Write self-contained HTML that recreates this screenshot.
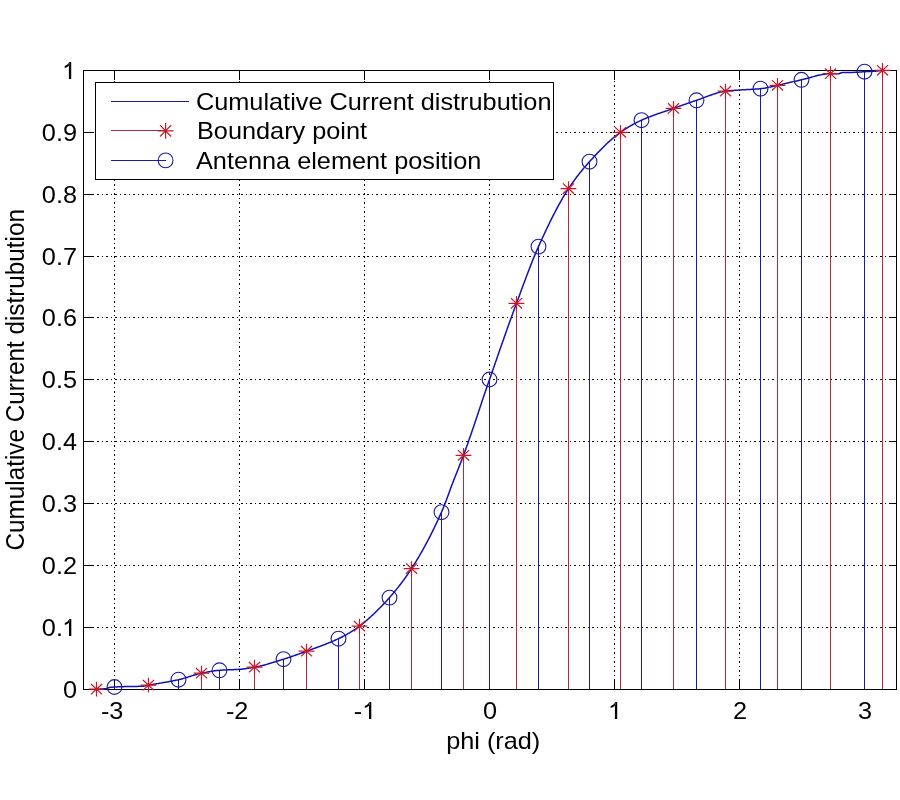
<!DOCTYPE html>
<html><head><meta charset="utf-8"><title>Cumulative Current distrubution</title>
<style>html,body{margin:0;padding:0;background:#fff;}body{width:900px;height:800px;position:relative;overflow:hidden;font-family:"Liberation Sans",sans-serif;}</style></head>
<body>
<svg width="900" height="800" viewBox="0 0 900 800" style="position:absolute;left:0;top:0;will-change:transform">
<rect x="0" y="0" width="900" height="800" fill="#fff"/>
<g stroke="#000" stroke-width="1" stroke-dasharray="1.5 3" fill="none" shape-rendering="crispEdges">
<line x1="114.5" y1="70.5" x2="114.5" y2="689.5" stroke-dashoffset="3.5"/>
<line x1="239.5" y1="70.5" x2="239.5" y2="689.5" stroke-dashoffset="3.5"/>
<line x1="364.5" y1="70.5" x2="364.5" y2="689.5" stroke-dashoffset="3.5"/>
<line x1="489.5" y1="70.5" x2="489.5" y2="689.5" stroke-dashoffset="3.5"/>
<line x1="614.5" y1="70.5" x2="614.5" y2="689.5" stroke-dashoffset="3.5"/>
<line x1="739.5" y1="70.5" x2="739.5" y2="689.5" stroke-dashoffset="3.5"/>
<line x1="864.5" y1="70.5" x2="864.5" y2="689.5" stroke-dashoffset="3.5"/>
<line x1="83.5" y1="627.5" x2="896.5" y2="627.5"/>
<line x1="83.5" y1="565.5" x2="896.5" y2="565.5"/>
<line x1="83.5" y1="503.5" x2="896.5" y2="503.5"/>
<line x1="83.5" y1="441.5" x2="896.5" y2="441.5"/>
<line x1="83.5" y1="379.5" x2="896.5" y2="379.5"/>
<line x1="83.5" y1="317.5" x2="896.5" y2="317.5"/>
<line x1="83.5" y1="256.5" x2="896.5" y2="256.5"/>
<line x1="83.5" y1="194.5" x2="896.5" y2="194.5"/>
<line x1="83.5" y1="132.5" x2="896.5" y2="132.5"/>
</g>
<g stroke="#000" stroke-width="1" fill="none" shape-rendering="crispEdges">
<rect x="83.5" y="70.5" width="813.0" height="619.0"/>
<line x1="114.5" y1="689.5" x2="114.5" y2="680.0"/>
<line x1="114.5" y1="70.5" x2="114.5" y2="80.0"/>
<line x1="239.5" y1="689.5" x2="239.5" y2="680.0"/>
<line x1="239.5" y1="70.5" x2="239.5" y2="80.0"/>
<line x1="364.5" y1="689.5" x2="364.5" y2="680.0"/>
<line x1="364.5" y1="70.5" x2="364.5" y2="80.0"/>
<line x1="489.5" y1="689.5" x2="489.5" y2="680.0"/>
<line x1="489.5" y1="70.5" x2="489.5" y2="80.0"/>
<line x1="614.5" y1="689.5" x2="614.5" y2="680.0"/>
<line x1="614.5" y1="70.5" x2="614.5" y2="80.0"/>
<line x1="739.5" y1="689.5" x2="739.5" y2="680.0"/>
<line x1="739.5" y1="70.5" x2="739.5" y2="80.0"/>
<line x1="864.5" y1="689.5" x2="864.5" y2="680.0"/>
<line x1="864.5" y1="70.5" x2="864.5" y2="80.0"/>
<line x1="83.5" y1="689.5" x2="93.0" y2="689.5"/>
<line x1="896.5" y1="689.5" x2="888.5" y2="689.5"/>
<line x1="83.5" y1="627.5" x2="93.0" y2="627.5"/>
<line x1="896.5" y1="627.5" x2="888.5" y2="627.5"/>
<line x1="83.5" y1="565.5" x2="93.0" y2="565.5"/>
<line x1="896.5" y1="565.5" x2="888.5" y2="565.5"/>
<line x1="83.5" y1="503.5" x2="93.0" y2="503.5"/>
<line x1="896.5" y1="503.5" x2="888.5" y2="503.5"/>
<line x1="83.5" y1="441.5" x2="93.0" y2="441.5"/>
<line x1="896.5" y1="441.5" x2="888.5" y2="441.5"/>
<line x1="83.5" y1="379.5" x2="93.0" y2="379.5"/>
<line x1="896.5" y1="379.5" x2="888.5" y2="379.5"/>
<line x1="83.5" y1="317.5" x2="93.0" y2="317.5"/>
<line x1="896.5" y1="317.5" x2="888.5" y2="317.5"/>
<line x1="83.5" y1="256.5" x2="93.0" y2="256.5"/>
<line x1="896.5" y1="256.5" x2="888.5" y2="256.5"/>
<line x1="83.5" y1="194.5" x2="93.0" y2="194.5"/>
<line x1="896.5" y1="194.5" x2="888.5" y2="194.5"/>
<line x1="83.5" y1="132.5" x2="93.0" y2="132.5"/>
<line x1="896.5" y1="132.5" x2="888.5" y2="132.5"/>
<line x1="83.5" y1="70.5" x2="93.0" y2="70.5"/>
<line x1="896.5" y1="70.5" x2="888.5" y2="70.5"/>
</g>
<g stroke="#b02a38" stroke-width="1" shape-rendering="crispEdges">
<line x1="96.5" y1="689.2" x2="96.5" y2="689.0"/>
<line x1="148.5" y1="685.2" x2="148.5" y2="689.0"/>
<line x1="201.5" y1="673.2" x2="201.5" y2="689.0"/>
<line x1="254.5" y1="667.2" x2="254.5" y2="689.0"/>
<line x1="306.5" y1="651.2" x2="306.5" y2="689.0"/>
<line x1="359.5" y1="626.2" x2="359.5" y2="689.0"/>
<line x1="411.5" y1="568.6" x2="411.5" y2="689.0"/>
<line x1="463.5" y1="455.3" x2="463.5" y2="689.0"/>
<line x1="516.5" y1="303.3" x2="516.5" y2="689.0"/>
<line x1="568.5" y1="188.6" x2="568.5" y2="689.0"/>
<line x1="620.5" y1="132.3" x2="620.5" y2="689.0"/>
<line x1="673.5" y1="108.4" x2="673.5" y2="689.0"/>
<line x1="725.5" y1="91.2" x2="725.5" y2="689.0"/>
<line x1="777.5" y1="85.3" x2="777.5" y2="689.0"/>
<line x1="830.5" y1="73.7" x2="830.5" y2="689.0"/>
<line x1="882.5" y1="70.3" x2="882.5" y2="689.0"/>
</g>
<g stroke="#1a1aa8" stroke-width="1" shape-rendering="crispEdges">
<line x1="114.5" y1="687.0" x2="114.5" y2="689.0"/>
<line x1="178.5" y1="679.7" x2="178.5" y2="689.0"/>
<line x1="219.5" y1="670.3" x2="219.5" y2="689.0"/>
<line x1="283.5" y1="659.2" x2="283.5" y2="689.0"/>
<line x1="338.5" y1="638.7" x2="338.5" y2="689.0"/>
<line x1="389.5" y1="597.6" x2="389.5" y2="689.0"/>
<line x1="441.5" y1="512.2" x2="441.5" y2="689.0"/>
<line x1="489.5" y1="379.5" x2="489.5" y2="689.0"/>
<line x1="538.5" y1="246.6" x2="538.5" y2="689.0"/>
<line x1="589.5" y1="161.7" x2="589.5" y2="689.0"/>
<line x1="641.5" y1="120.2" x2="641.5" y2="689.0"/>
<line x1="696.5" y1="100.3" x2="696.5" y2="689.0"/>
<line x1="760.5" y1="88.7" x2="760.5" y2="689.0"/>
<line x1="801.5" y1="79.8" x2="801.5" y2="689.0"/>
<line x1="864.5" y1="71.7" x2="864.5" y2="689.0"/>
</g>
<path d="M96.5,689.20 L97.5,689.19 L98.5,689.17 L99.5,689.13 L100.5,689.08 L101.5,689.02 L102.5,688.94 L103.5,688.86 L104.5,688.76 L105.5,688.66 L106.5,688.51 L107.5,688.20 L108.5,687.82 L109.5,687.50 L110.5,687.33 L111.5,687.22 L112.5,687.13 L113.5,687.06 L114.5,687.00 L115.5,686.95 L116.5,686.90 L117.5,686.85 L118.5,686.81 L119.5,686.77 L120.5,686.74 L121.5,686.70 L122.5,686.67 L123.5,686.64 L124.5,686.61 L125.5,686.59 L126.5,686.56 L127.5,686.54 L128.5,686.52 L129.5,686.50 L130.5,686.49 L131.5,686.47 L132.5,686.46 L133.5,686.45 L134.5,686.43 L135.5,686.42 L136.5,686.40 L137.5,686.38 L138.5,686.35 L139.5,686.33 L140.5,686.30 L141.5,686.26 L142.5,686.22 L143.5,686.17 L144.5,686.04 L145.5,685.85 L146.5,685.63 L147.5,685.40 L148.5,685.20 L149.5,685.02 L150.5,684.84 L151.5,684.66 L152.5,684.49 L153.5,684.32 L154.5,684.14 L155.5,683.97 L156.5,683.80 L157.5,683.63 L158.5,683.46 L159.5,683.29 L160.5,683.12 L161.5,682.95 L162.5,682.78 L163.5,682.61 L164.5,682.43 L165.5,682.26 L166.5,682.08 L167.5,681.90 L168.5,681.72 L169.5,681.53 L170.5,681.35 L171.5,681.15 L172.5,680.96 L173.5,680.76 L174.5,680.56 L175.5,680.35 L176.5,680.14 L177.5,679.92 L178.5,679.70 L179.5,679.47 L180.5,679.22 L181.5,678.96 L182.5,678.68 L183.5,678.40 L184.5,678.10 L185.5,677.80 L186.5,677.49 L187.5,677.18 L188.5,676.86 L189.5,676.55 L190.5,676.23 L191.5,675.91 L192.5,675.60 L193.5,675.30 L194.5,674.99 L195.5,674.70 L196.5,674.42 L197.5,674.15 L198.5,673.89 L199.5,673.64 L200.5,673.41 L201.5,673.20 L202.5,673.00 L203.5,672.80 L204.5,672.59 L205.5,672.40 L206.5,672.20 L207.5,672.01 L208.5,671.82 L209.5,671.64 L210.5,671.47 L211.5,671.30 L212.5,671.14 L213.5,670.99 L214.5,670.84 L215.5,670.71 L216.5,670.59 L217.5,670.48 L218.5,670.38 L219.5,670.30 L220.5,670.23 L221.5,670.16 L222.5,670.10 L223.5,670.05 L224.5,670.00 L225.5,669.95 L226.5,669.91 L227.5,669.87 L228.5,669.83 L229.5,669.80 L230.5,669.76 L231.5,669.72 L232.5,669.68 L233.5,669.64 L234.5,669.60 L235.5,669.55 L236.5,669.49 L237.5,669.44 L238.5,669.37 L239.5,669.30 L240.5,669.22 L241.5,669.13 L242.5,669.02 L243.5,668.91 L244.5,668.79 L245.5,668.66 L246.5,668.52 L247.5,668.37 L248.5,668.22 L249.5,668.06 L250.5,667.90 L251.5,667.73 L252.5,667.55 L253.5,667.38 L254.5,667.20 L255.5,667.02 L256.5,666.82 L257.5,666.61 L258.5,666.40 L259.5,666.17 L260.5,665.94 L261.5,665.70 L262.5,665.45 L263.5,665.19 L264.5,664.93 L265.5,664.66 L266.5,664.38 L267.5,664.10 L268.5,663.81 L269.5,663.52 L270.5,663.23 L271.5,662.93 L272.5,662.62 L273.5,662.32 L274.5,662.01 L275.5,661.70 L276.5,661.39 L277.5,661.08 L278.5,660.76 L279.5,660.45 L280.5,660.13 L281.5,659.82 L282.5,659.51 L283.5,659.20 L284.5,658.89 L285.5,658.57 L286.5,658.25 L287.5,657.93 L288.5,657.60 L289.5,657.26 L290.5,656.92 L291.5,656.58 L292.5,656.24 L293.5,655.89 L294.5,655.54 L295.5,655.19 L296.5,654.83 L297.5,654.48 L298.5,654.12 L299.5,653.76 L300.5,653.39 L301.5,653.03 L302.5,652.67 L303.5,652.30 L304.5,651.93 L305.5,651.57 L306.5,651.20 L307.5,650.83 L308.5,650.47 L309.5,650.11 L310.5,649.74 L311.5,649.38 L312.5,649.02 L313.5,648.66 L314.5,648.29 L315.5,647.93 L316.5,647.57 L317.5,647.20 L318.5,646.83 L319.5,646.46 L320.5,646.09 L321.5,645.72 L322.5,645.34 L323.5,644.96 L324.5,644.58 L325.5,644.19 L326.5,643.80 L327.5,643.41 L328.5,643.01 L329.5,642.60 L330.5,642.19 L331.5,641.78 L332.5,641.36 L333.5,640.93 L334.5,640.50 L335.5,640.06 L336.5,639.61 L337.5,639.16 L338.5,638.70 L339.5,638.23 L340.5,637.74 L341.5,637.24 L342.5,636.72 L343.5,636.19 L344.5,635.65 L345.5,635.10 L346.5,634.54 L347.5,633.97 L348.5,633.39 L349.5,632.80 L350.5,632.20 L351.5,631.59 L352.5,630.98 L353.5,630.35 L354.5,629.71 L355.5,629.05 L356.5,628.37 L357.5,627.67 L358.5,626.95 L359.5,626.20 L360.5,625.43 L361.5,624.65 L362.5,623.86 L363.5,623.05 L364.5,622.22 L365.5,621.38 L366.5,620.53 L367.5,619.66 L368.5,618.79 L369.5,617.89 L370.5,616.99 L371.5,616.07 L372.5,615.14 L373.5,614.19 L374.5,613.24 L375.5,612.27 L376.5,611.29 L377.5,610.30 L378.5,609.30 L379.5,608.29 L380.5,607.26 L381.5,606.23 L382.5,605.18 L383.5,604.13 L384.5,603.07 L385.5,601.99 L386.5,600.91 L387.5,599.81 L388.5,598.71 L389.5,597.60 L390.5,596.48 L391.5,595.33 L392.5,594.18 L393.5,593.00 L394.5,591.80 L395.5,590.59 L396.5,589.36 L397.5,588.11 L398.5,586.85 L399.5,585.56 L400.5,584.26 L401.5,582.93 L402.5,581.59 L403.5,580.23 L404.5,578.84 L405.5,577.44 L406.5,576.02 L407.5,574.58 L408.5,573.11 L409.5,571.63 L410.5,570.13 L411.5,568.60 L412.5,567.05 L413.5,565.48 L414.5,563.89 L415.5,562.28 L416.5,560.64 L417.5,558.99 L418.5,557.31 L419.5,555.60 L420.5,553.88 L421.5,552.13 L422.5,550.36 L423.5,548.56 L424.5,546.74 L425.5,544.90 L426.5,543.04 L427.5,541.15 L428.5,539.24 L429.5,537.30 L430.5,535.35 L431.5,533.36 L432.5,531.36 L433.5,529.33 L434.5,527.27 L435.5,525.19 L436.5,523.09 L437.5,520.96 L438.5,518.81 L439.5,516.63 L440.5,514.43 L441.5,512.20 L442.5,509.90 L443.5,507.48 L444.5,504.97 L445.5,502.38 L446.5,499.73 L447.5,497.03 L448.5,494.30 L449.5,491.56 L450.5,488.82 L451.5,486.10 L452.5,483.41 L453.5,480.78 L454.5,478.20 L455.5,475.67 L456.5,473.16 L457.5,470.66 L458.5,468.16 L459.5,465.65 L460.5,463.12 L461.5,460.56 L462.5,457.96 L463.5,455.30 L464.5,452.59 L465.5,449.85 L466.5,447.07 L467.5,444.26 L468.5,441.42 L469.5,438.56 L470.5,435.67 L471.5,432.76 L472.5,429.83 L473.5,426.89 L474.5,423.93 L475.5,420.96 L476.5,417.98 L477.5,414.99 L478.5,412.00 L479.5,409.01 L480.5,406.02 L481.5,403.03 L482.5,400.04 L483.5,397.06 L484.5,394.10 L485.5,391.14 L486.5,388.20 L487.5,385.28 L488.5,382.38 L489.5,379.50 L490.5,376.63 L491.5,373.76 L492.5,370.88 L493.5,368.01 L494.5,365.14 L495.5,362.26 L496.5,359.39 L497.5,356.52 L498.5,353.65 L499.5,350.79 L500.5,347.93 L501.5,345.07 L502.5,342.22 L503.5,339.38 L504.5,336.54 L505.5,333.71 L506.5,330.89 L507.5,328.08 L508.5,325.28 L509.5,322.49 L510.5,319.71 L511.5,316.94 L512.5,314.18 L513.5,311.44 L514.5,308.71 L515.5,306.00 L516.5,303.30 L517.5,300.60 L518.5,297.90 L519.5,295.19 L520.5,292.48 L521.5,289.77 L522.5,287.06 L523.5,284.36 L524.5,281.67 L525.5,278.99 L526.5,276.32 L527.5,273.67 L528.5,271.05 L529.5,268.45 L530.5,265.87 L531.5,263.33 L532.5,260.81 L533.5,258.34 L534.5,255.90 L535.5,253.51 L536.5,251.15 L537.5,248.85 L538.5,246.60 L539.5,244.38 L540.5,242.17 L541.5,239.98 L542.5,237.80 L543.5,235.63 L544.5,233.48 L545.5,231.35 L546.5,229.23 L547.5,227.13 L548.5,225.06 L549.5,222.99 L550.5,220.95 L551.5,218.94 L552.5,216.94 L553.5,214.96 L554.5,213.01 L555.5,211.09 L556.5,209.18 L557.5,207.31 L558.5,205.46 L559.5,203.64 L560.5,201.84 L561.5,200.08 L562.5,198.34 L563.5,196.64 L564.5,194.96 L565.5,193.32 L566.5,191.71 L567.5,190.14 L568.5,188.60 L569.5,187.09 L570.5,185.61 L571.5,184.16 L572.5,182.73 L573.5,181.33 L574.5,179.95 L575.5,178.60 L576.5,177.27 L577.5,175.96 L578.5,174.68 L579.5,173.41 L580.5,172.16 L581.5,170.94 L582.5,169.73 L583.5,168.54 L584.5,167.36 L585.5,166.20 L586.5,165.06 L587.5,163.92 L588.5,162.81 L589.5,161.70 L590.5,160.60 L591.5,159.51 L592.5,158.42 L593.5,157.34 L594.5,156.26 L595.5,155.19 L596.5,154.13 L597.5,153.07 L598.5,152.03 L599.5,150.99 L600.5,149.96 L601.5,148.94 L602.5,147.94 L603.5,146.94 L604.5,145.96 L605.5,144.99 L606.5,144.03 L607.5,143.08 L608.5,142.15 L609.5,141.24 L610.5,140.34 L611.5,139.45 L612.5,138.59 L613.5,137.73 L614.5,136.90 L615.5,136.09 L616.5,135.29 L617.5,134.51 L618.5,133.75 L619.5,133.02 L620.5,132.30 L621.5,131.60 L622.5,130.91 L623.5,130.24 L624.5,129.58 L625.5,128.93 L626.5,128.30 L627.5,127.68 L628.5,127.07 L629.5,126.47 L630.5,125.88 L631.5,125.31 L632.5,124.75 L633.5,124.20 L634.5,123.66 L635.5,123.13 L636.5,122.62 L637.5,122.11 L638.5,121.62 L639.5,121.13 L640.5,120.66 L641.5,120.20 L642.5,119.75 L643.5,119.31 L644.5,118.87 L645.5,118.45 L646.5,118.04 L647.5,117.63 L648.5,117.23 L649.5,116.84 L650.5,116.46 L651.5,116.08 L652.5,115.71 L653.5,115.34 L654.5,114.98 L655.5,114.62 L656.5,114.26 L657.5,113.91 L658.5,113.57 L659.5,113.22 L660.5,112.88 L661.5,112.54 L662.5,112.20 L663.5,111.86 L664.5,111.52 L665.5,111.18 L666.5,110.84 L667.5,110.50 L668.5,110.15 L669.5,109.81 L670.5,109.46 L671.5,109.11 L672.5,108.76 L673.5,108.40 L674.5,108.04 L675.5,107.68 L676.5,107.32 L677.5,106.96 L678.5,106.60 L679.5,106.24 L680.5,105.88 L681.5,105.52 L682.5,105.16 L683.5,104.81 L684.5,104.45 L685.5,104.09 L686.5,103.74 L687.5,103.39 L688.5,103.04 L689.5,102.69 L690.5,102.34 L691.5,101.99 L692.5,101.65 L693.5,101.31 L694.5,100.97 L695.5,100.63 L696.5,100.30 L697.5,99.96 L698.5,99.62 L699.5,99.26 L700.5,98.90 L701.5,98.53 L702.5,98.16 L703.5,97.79 L704.5,97.41 L705.5,97.03 L706.5,96.66 L707.5,96.28 L708.5,95.91 L709.5,95.54 L710.5,95.18 L711.5,94.82 L712.5,94.48 L713.5,94.14 L714.5,93.81 L715.5,93.49 L716.5,93.19 L717.5,92.89 L718.5,92.62 L719.5,92.36 L720.5,92.11 L721.5,91.89 L722.5,91.68 L723.5,91.50 L724.5,91.34 L725.5,91.20 L726.5,91.08 L727.5,90.97 L728.5,90.86 L729.5,90.76 L730.5,90.67 L731.5,90.59 L732.5,90.51 L733.5,90.43 L734.5,90.36 L735.5,90.28 L736.5,90.21 L737.5,90.14 L738.5,90.07 L739.5,90.00 L740.5,89.93 L741.5,89.86 L742.5,89.80 L743.5,89.75 L744.5,89.69 L745.5,89.64 L746.5,89.59 L747.5,89.54 L748.5,89.49 L749.5,89.44 L750.5,89.39 L751.5,89.33 L752.5,89.28 L753.5,89.22 L754.5,89.16 L755.5,89.10 L756.5,89.03 L757.5,88.96 L758.5,88.88 L759.5,88.79 L760.5,88.70 L761.5,88.59 L762.5,88.46 L763.5,88.32 L764.5,88.15 L765.5,87.97 L766.5,87.78 L767.5,87.57 L768.5,87.36 L769.5,87.14 L770.5,86.91 L771.5,86.67 L772.5,86.44 L773.5,86.20 L774.5,85.97 L775.5,85.74 L776.5,85.52 L777.5,85.30 L778.5,85.09 L779.5,84.87 L780.5,84.65 L781.5,84.42 L782.5,84.20 L783.5,83.97 L784.5,83.74 L785.5,83.51 L786.5,83.28 L787.5,83.04 L788.5,82.81 L789.5,82.57 L790.5,82.33 L791.5,82.10 L792.5,81.86 L793.5,81.63 L794.5,81.39 L795.5,81.16 L796.5,80.93 L797.5,80.70 L798.5,80.47 L799.5,80.24 L800.5,80.02 L801.5,79.80 L802.5,79.57 L803.5,79.34 L804.5,79.09 L805.5,78.83 L806.5,78.57 L807.5,78.30 L808.5,78.02 L809.5,77.74 L810.5,77.46 L811.5,77.18 L812.5,76.90 L813.5,76.63 L814.5,76.35 L815.5,76.08 L816.5,75.82 L817.5,75.57 L818.5,75.33 L819.5,75.10 L820.5,74.88 L821.5,74.67 L822.5,74.49 L823.5,74.31 L824.5,74.16 L825.5,74.02 L826.5,73.91 L827.5,73.82 L828.5,73.75 L829.5,73.71 L830.5,73.70 L831.5,73.70 L832.5,73.72 L833.5,73.74 L834.5,73.75 L835.5,73.77 L836.5,73.79 L837.5,73.80 L838.5,73.75 L839.5,73.44 L840.5,73.01 L841.5,72.67 L842.5,72.58 L843.5,72.54 L844.5,72.51 L845.5,72.48 L846.5,72.46 L847.5,72.45 L848.5,72.43 L849.5,72.42 L850.5,72.41 L851.5,72.40 L852.5,72.38 L853.5,72.37 L854.5,72.34 L855.5,72.32 L856.5,72.28 L857.5,72.23 L858.5,72.16 L859.5,72.09 L860.5,72.00 L861.5,71.92 L862.5,71.84 L863.5,71.76 L864.5,71.70 L865.5,71.65 L866.5,71.60 L867.5,71.56 L868.5,71.52 L869.5,71.48 L870.5,71.44 L871.5,71.39 L872.5,71.35 L873.5,71.29 L874.5,71.23 L875.5,71.16 L876.5,71.08 L877.5,70.97 L878.5,70.86 L879.5,70.73 L880.5,70.59 L881.5,70.45 L882.5,70.30" stroke="#1212b4" stroke-width="1.5" fill="none" stroke-linejoin="round"/>
<g stroke="#c81828" stroke-width="1.2" fill="none">
<path d="M88.6,689.2H104.4M96.5,681.8V696.6M90.9,684.0L102.1,694.4M90.9,694.4L102.1,684.0"/>
<path d="M140.6,685.2H156.4M148.5,677.8V692.6M142.9,680.0L154.1,690.4M142.9,690.4L154.1,680.0"/>
<path d="M193.6,673.2H209.4M201.5,665.8V680.6M195.9,668.0L207.1,678.4M195.9,678.4L207.1,668.0"/>
<path d="M246.6,667.2H262.4M254.5,659.8V674.6M248.9,662.0L260.1,672.4M248.9,672.4L260.1,662.0"/>
<path d="M298.6,651.2H314.4M306.5,643.8V658.6M300.9,646.0L312.1,656.4M300.9,656.4L312.1,646.0"/>
<path d="M351.6,626.2H367.4M359.5,618.8V633.6M353.9,621.0L365.1,631.4M353.9,631.4L365.1,621.0"/>
<path d="M403.6,568.6H419.4M411.5,561.2V576.0M405.9,563.4L417.1,573.8M405.9,573.8L417.1,563.4"/>
<path d="M455.6,455.3H471.4M463.5,447.9V462.7M457.9,450.1L469.1,460.5M457.9,460.5L469.1,450.1"/>
<path d="M508.6,303.3H524.4M516.5,295.9V310.7M510.9,298.1L522.1,308.5M510.9,308.5L522.1,298.1"/>
<path d="M560.6,188.6H576.4M568.5,181.2V196.0M562.9,183.4L574.1,193.8M562.9,193.8L574.1,183.4"/>
<path d="M612.6,132.3H628.4M620.5,124.9V139.7M614.9,127.1L626.1,137.5M614.9,137.5L626.1,127.1"/>
<path d="M665.6,108.4H681.4M673.5,101.0V115.8M667.9,103.2L679.1,113.6M667.9,113.6L679.1,103.2"/>
<path d="M717.6,91.2H733.4M725.5,83.8V98.6M719.9,86.0L731.1,96.4M719.9,96.4L731.1,86.0"/>
<path d="M769.6,85.3H785.4M777.5,77.9V92.7M771.9,80.1L783.1,90.5M771.9,90.5L783.1,80.1"/>
<path d="M822.6,73.7H838.4M830.5,66.3V81.1M824.9,68.5L836.1,78.9M824.9,78.9L836.1,68.5"/>
<path d="M874.6,70.3H890.4M882.5,62.9V77.7M876.9,65.1L888.1,75.5M876.9,75.5L888.1,65.1"/>
</g>
<g stroke="#1c1ca0" stroke-width="1.1" fill="none">
<circle cx="114.5" cy="687.0" r="7.4"/>
<circle cx="178.5" cy="679.7" r="7.4"/>
<circle cx="219.5" cy="670.3" r="7.4"/>
<circle cx="283.5" cy="659.2" r="7.4"/>
<circle cx="338.5" cy="638.7" r="7.4"/>
<circle cx="389.5" cy="597.6" r="7.4"/>
<circle cx="441.5" cy="512.2" r="7.4"/>
<circle cx="489.5" cy="379.5" r="7.4"/>
<circle cx="538.5" cy="246.6" r="7.4"/>
<circle cx="589.5" cy="161.7" r="7.4"/>
<circle cx="641.5" cy="120.2" r="7.4"/>
<circle cx="696.5" cy="100.3" r="7.4"/>
<circle cx="760.5" cy="88.7" r="7.4"/>
<circle cx="801.5" cy="79.8" r="7.4"/>
<circle cx="864.5" cy="71.7" r="7.4"/>
</g>
<rect x="95.5" y="82.5" width="458" height="97" fill="#fff" stroke="#000" stroke-width="1" shape-rendering="crispEdges"/>
<line x1="111" y1="101.5" x2="188.5" y2="101.5" stroke="#1a1aa8" stroke-width="1" shape-rendering="crispEdges"/>
<line x1="111" y1="130.5" x2="166" y2="130.5" stroke="#b02a38" stroke-width="1" shape-rendering="crispEdges"/>
<g stroke="#c81828" stroke-width="1.2" fill="none"><path d="M157.7,130.8H173.5M165.6,122.8V138.8M160.0,125.1L171.2,136.5M160.0,136.5L171.2,125.1"/></g>
<line x1="111" y1="160.5" x2="166" y2="160.5" stroke="#1a1aa8" stroke-width="1" shape-rendering="crispEdges"/>
<circle cx="165.6" cy="160.4" r="7.4" stroke="#1c1ca0" stroke-width="1.1" fill="none"/>
<g font-family="'Liberation Sans', sans-serif" fill="#000">
<text transform="translate(196,109.7) scale(1.1,1)" text-anchor="start" font-size="23" >Cumulative Current distrubution</text>
<text transform="translate(197,139) scale(1.1,1)" text-anchor="start" font-size="23" >Boundary point</text>
<text transform="translate(196,168.8) scale(1.1,1)" text-anchor="start" font-size="23" >Antenna element position</text>
<text transform="translate(77,698.3) scale(1.1,1)" text-anchor="end" font-size="23" >0</text>
<text transform="translate(62.93,636.3) scale(1.1,1)" text-anchor="end" font-size="23" >0.</text>
<path d="M69.00,619.10H71.30V636.00H69.00ZM69.30,619.10C68.50,621.00 66.90,622.40 64.80,623.10V625.00C66.70,624.40 68.10,623.60 69.30,622.40Z" fill="#000" stroke="none"/>
<text transform="translate(77,574.3) scale(1.1,1)" text-anchor="end" font-size="23" >0.2</text>
<text transform="translate(77,512.3) scale(1.1,1)" text-anchor="end" font-size="23" >0.3</text>
<text transform="translate(77,450.3) scale(1.1,1)" text-anchor="end" font-size="23" >0.4</text>
<text transform="translate(77,388.3) scale(1.1,1)" text-anchor="end" font-size="23" >0.5</text>
<text transform="translate(77,326.3) scale(1.1,1)" text-anchor="end" font-size="23" >0.6</text>
<text transform="translate(77,265.3) scale(1.1,1)" text-anchor="end" font-size="23" >0.7</text>
<text transform="translate(77,203.3) scale(1.1,1)" text-anchor="end" font-size="23" >0.8</text>
<text transform="translate(77,141.3) scale(1.1,1)" text-anchor="end" font-size="23" >0.9</text>
<path d="M68.90,62.10H71.20V79.00H68.90ZM69.20,62.10C68.40,64.00 66.80,65.40 64.70,66.10V68.00C66.60,67.40 68.00,66.60 69.20,65.40Z" fill="#000" stroke="none"/>
<text transform="translate(100.9,719) scale(1.1,1)" text-anchor="start" font-size="23" >-3</text>
<text transform="translate(225.9,719) scale(1.1,1)" text-anchor="start" font-size="23" >-2</text>
<text transform="translate(353.8,719) scale(1.1,1)" text-anchor="start" font-size="23" >-</text>
<path d="M369.00,702.10H371.30V719.00H369.00ZM369.30,702.10C368.50,704.00 366.90,705.40 364.80,706.10V708.00C366.70,707.40 368.10,706.60 369.30,705.40Z" fill="#000" stroke="none"/>
<text transform="translate(490,719) scale(1.1,1)" text-anchor="middle" font-size="23" >0</text>
<path d="M614.90,702.10H617.20V719.00H614.90ZM615.20,702.10C614.40,704.00 612.80,705.40 610.70,706.10V708.00C612.60,707.40 614.00,706.60 615.20,705.40Z" fill="#000" stroke="none"/>
<text transform="translate(740.1,719) scale(1.1,1)" text-anchor="middle" font-size="23" >2</text>
<text transform="translate(865.1,719) scale(1.1,1)" text-anchor="middle" font-size="23" >3</text>
<text transform="translate(493.2,748.6) scale(1.1,1)" text-anchor="middle" font-size="23" >phi (rad)</text>
<text transform="translate(23.8,379.8) rotate(-90) scale(1.056,1.09)" text-anchor="middle" font-size="23">Cumulative Current distrubution</text>
</g>
</svg>
</body></html>
